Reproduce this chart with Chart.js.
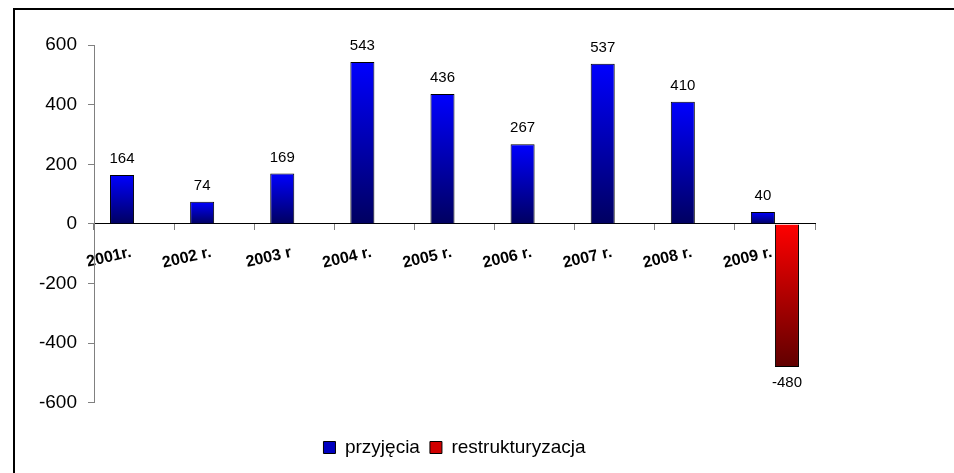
<!DOCTYPE html>
<html>
<head>
<meta charset="utf-8">
<script src="https://cdn.jsdelivr.net/npm/chart.js@4/dist/chart.umd.min.js"></script>
<style>
  html, body { margin: 0; padding: 0; background: #fff; }
  #wrap { position: relative; width: 954px; height: 473px; overflow: hidden; }
  #frame { position: absolute; left: 13px; top: 8px; width: 1200px; height: 1000px;
           border-left: 2px solid #000; border-top: 2px solid #000; box-sizing: border-box; pointer-events: none; }
  #c { position: absolute; left: 0; top: 0; }
</style>
</head>
<body>
<div id="wrap">
  <canvas id="c" width="954" height="473"></canvas>
  <div id="frame"></div>
</div>
<script>
const categories = ['2001r.', '2002 r.', '2003 r', '2004 r.', '2005 r.', '2006 r.', '2007 r.', '2008 r.', '2009 r.'];
const przyjecia = [164, 74, 169, 543, 436, 267, 537, 410, 40];
const restrukturyzacja = [null, null, null, null, null, null, null, null, -480];
const yTicks = { min: -600, max: 600, step: 200 };

const FONT = "Arial, 'Liberation Sans', sans-serif";

function gradientFill(ctx, topColor, bottomColor, fallback) {
  if (ctx.type !== 'data') return fallback;
  const chart = ctx.chart;
  if (!chart.chartArea || !chart.scales.y) return fallback;
  const v = ctx.raw;
  if (v === null || v === undefined) return fallback;
  const ys = chart.scales.y;
  const p0 = ys.getPixelForValue(0);
  const pv = ys.getPixelForValue(v);
  const top = Math.min(p0, pv), bot = Math.max(p0, pv);
  if (!isFinite(top) || !isFinite(bot) || bot - top < 1) return fallback;
  const g = chart.ctx.createLinearGradient(0, top, 0, bot);
  g.addColorStop(0, topColor);
  g.addColorStop(1, bottomColor);
  return g;
}

const valueLabels = {
  id: 'valueLabels',
  afterDatasetsDraw(chart) {
    const c = chart.ctx;
    c.save();
    c.font = '15px ' + FONT;
    c.fillStyle = '#000';
    c.textAlign = 'center';
    c.textBaseline = 'middle';
    chart.data.datasets.forEach((ds, di) => {
      const meta = chart.getDatasetMeta(di);
      meta.data.forEach((el, i) => {
        const v = ds.data[i];
        if (v === null || v === undefined) return;
        const y = v >= 0 ? el.y - 16 : el.y + 16;
        c.fillText(String(v), el.x, y);
      });
    });
    c.restore();
  }
};

// shift the bottom legend so it is centred like the reference
const legendShift = {
  id: 'legendShift',
  afterLayout(chart) {
    if (chart.legend) { chart.legend.left += 47; chart.legend.right += 47; }
  }
};

new Chart(document.getElementById('c'), {
  type: 'bar',
  data: {
    labels: categories,
    datasets: [
      {
        label: 'przyjęcia',
        data: przyjecia,
        backgroundColor: (ctx) => gradientFill(ctx, '#0000ff', '#000060', '#0000c0'),
        borderColor: '#000',
        borderWidth: 1,
        categoryPercentage: 0.6,
        barPercentage: 1.0
      },
      {
        label: 'restrukturyzacja',
        data: restrukturyzacja,
        backgroundColor: (ctx) => gradientFill(ctx, '#ff0000', '#600000', '#d00000'),
        borderColor: '#000',
        borderWidth: 1,
        categoryPercentage: 0.6,
        barPercentage: 1.0
      }
    ]
  },
  options: {
    responsive: false,
    animation: false,
    layout: { padding: { left: 0, right: 139, top: 45, bottom: 6 } },
    scales: {
      x: {
        position: { y: 0 },
        grid: { drawOnChartArea: false, drawTicks: true, tickLength: 6, color: '#808080', offset: true },
        border: { color: '#000', width: 1 },
        ticks: {
          autoSkip: false, minRotation: 13, maxRotation: 13, padding: 13, labelOffset: -3,
          color: '#000', font: { family: FONT, size: 16, weight: 'bold' }
        }
      },
      y: {
        min: yTicks.min, max: yTicks.max,
        grid: { drawOnChartArea: false, drawTicks: true, tickLength: 6, color: '#808080' },
        border: { color: '#808080', width: 1 },
        ticks: { stepSize: yTicks.step, padding: 11, color: '#000', font: { family: FONT, size: 19 } },
        afterFit(scale) { scale.width = 94; }
      }
    },
    plugins: {
      tooltip: { enabled: false },
      legend: {
        position: 'bottom',
        title: { display: true, text: '', padding: { top: 24, bottom: 0 }, font: { size: 1 } },
        labels: {
          boxWidth: 12, boxHeight: 12, padding: 10, color: '#000',
          font: { family: FONT, size: 19 },
          generateLabels(chart) {
            const items = Chart.defaults.plugins.legend.labels.generateLabels(chart);
            const fills = ['#0000c0', '#d00000'];
            items.forEach((it, i) => { it.fillStyle = fills[i]; it.strokeStyle = '#000'; it.lineWidth = 1; });
            return items;
          }
        }
      }
    }
  },
  plugins: [valueLabels, legendShift]
});
</script>
</body>
</html>
